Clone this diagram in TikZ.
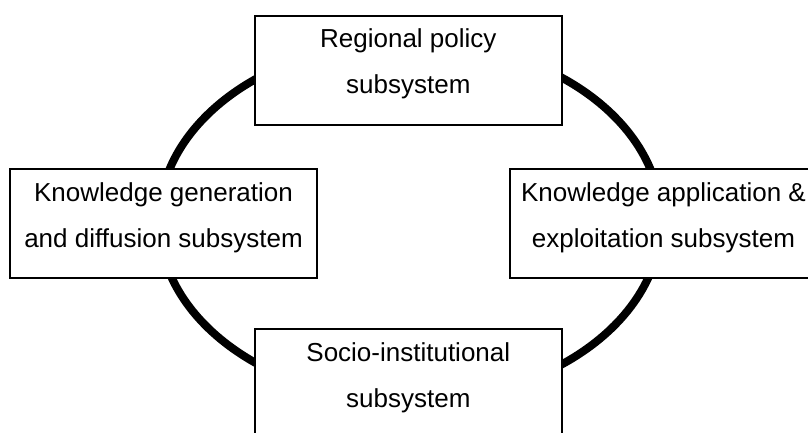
\documentclass[tikz,border=0pt]{standalone}
\usepackage{fontspec}
\setmainfont{Liberation Sans}
\begin{document}
\begin{tikzpicture}[x=1bp,y=-1bp,
  box/.style={draw=black, line width=2bp, fill=white, rectangle,
    minimum width=307bp, minimum height=109bp, inner sep=0pt},
  lbl/.style={align=center, anchor=north, inner sep=0pt,
    font=\fontsize{26bp}{46bp}\selectfont},
  ring/.style={draw=black, line width=8bp}]
\useasboundingbox (0,0) rectangle (808,432);
\path[ring] (410,221) ellipse [x radius=251bp, y radius=180bp];
\node[box] (rp) at (408.3,70) {};
\node[box] (kg) at (163.5,223.5) {};
\node[box] (ka) at (663.5,223.5) {};
\node[box] (si) at (408.3,383.5) {};
\node[lbl] (rpt) at ([yshift=-14.4bp]rp.north) {Regional policy\\subsystem};
\node[lbl] (kgt) at ([yshift=-14.4bp]kg.north) {Knowledge generation\\and diffusion subsystem};
\node[lbl] (kat) at ([yshift=-14.4bp]ka.north) {Knowledge application \&\\exploitation subsystem};
\node[lbl] (sit) at ([yshift=-14.4bp]si.north) {Socio-institutional\\subsystem};
\end{tikzpicture}
\end{document}
